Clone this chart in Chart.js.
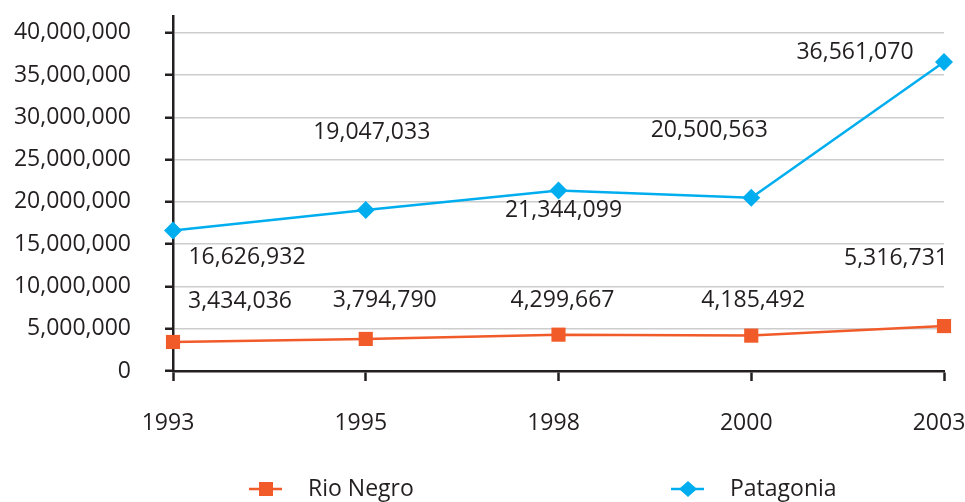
<!DOCTYPE html>
<html>
<head>
<meta charset="utf-8">
<title>Rio Negro / Patagonia</title>
<script src="https://cdn.jsdelivr.net/npm/chart.js@4/dist/chart.umd.min.js"></script>
<style>
  html, body { margin: 0; padding: 0; background: #fff; }
  #wrap { width: 965px; height: 502px; }
</style>
</head>
<body>
<div id="wrap"><canvas id="line-chart" width="965" height="502"></canvas></div>
<script>
const years = ['1993', '1995', '1998', '2000', '2003'];
const rioNegro = [3434036, 3794790, 4299667, 4185492, 5316731];
const patagonia = [16626932, 19047033, 21344099, 20500563, 36561070];
const yTicks = [0, 5000000, 10000000, 15000000, 20000000, 25000000, 30000000, 35000000, 40000000];
const yAxisTop = 42000000;

const INK = '#231f20';
const ORANGE = '#f15a29';
const BLUE = '#00aeef';
const FONT = '"Open Sans", "DejaVu Sans", sans-serif';

const fmt = v => v.toLocaleString('en-US');

// value labels, nudged off each point so they don't sit on the lines
const valueLabels = {
    id: 'valueLabels',
    afterDatasetsDraw(chart, args, opts) {
        const ctx = chart.ctx;
        ctx.save();
        ctx.font = '23px ' + FONT;
        ctx.fillStyle = INK;
        ctx.textAlign = 'center';
        ctx.textBaseline = 'middle';
        chart.data.datasets.forEach((ds, i) => {
            const shift = opts.offsets[i];
            chart.getDatasetMeta(i).data.forEach((pt, j) => {
                ctx.fillText(fmt(ds.data[j]), pt.x + shift[j][0], pt.y + shift[j][1]);
            });
        });
        ctx.restore();
    }
};

// legend: short line with the marker in the middle, then the name
const lineLegend = {
    id: 'lineLegend',
    afterDraw(chart, args, opts) {
        const ctx = chart.ctx;
        ctx.save();
        chart.data.datasets.forEach((ds, i) => {
            const x = opts.x[i], y = opts.y;
            ctx.strokeStyle = ds.borderColor;
            ctx.lineWidth = 2.5;
            ctx.beginPath();
            ctx.moveTo(x, y);
            ctx.lineTo(x + 33, y);
            ctx.stroke();
            ctx.fillStyle = ds.borderColor;
            const cx = x + 17;
            ctx.beginPath();
            if (ds.pointStyle === 'rectRot') {
                ctx.moveTo(cx, y - 8);
                ctx.lineTo(cx + 9, y);
                ctx.lineTo(cx, y + 8);
                ctx.lineTo(cx - 9, y);
                ctx.closePath();
            } else {
                ctx.rect(cx - 7, y - 7, 14, 14);
            }
            ctx.fill();
            ctx.fillStyle = INK;
            ctx.font = '23px ' + FONT;
            ctx.textAlign = 'left';
            ctx.textBaseline = 'middle';
            ctx.fillText(ds.label, x + 59, y);
        });
        ctx.restore();
    }
};

function createChart() {
    const ctx = document.querySelector('#line-chart').getContext('2d');
    return new Chart(ctx, {
        type: 'line',
        data: {
            labels: years,
            datasets: [
                {
                    label: 'Rio Negro',
                    data: rioNegro,
                    borderColor: ORANGE,
                    backgroundColor: ORANGE,
                    borderWidth: 2.5,
                    pointStyle: 'rect',
                    pointRadius: 10,
                    pointBorderWidth: 0,
                    fill: false,
                    tension: 0
                },
                {
                    label: 'Patagonia',
                    data: patagonia,
                    borderColor: BLUE,
                    backgroundColor: BLUE,
                    borderWidth: 2.5,
                    pointStyle: 'rectRot',
                    pointRadius: 9,
                    pointBorderWidth: 0,
                    fill: false,
                    tension: 0
                }
            ]
        },
        options: {
            responsive: false,
            animation: false,
            devicePixelRatio: 1,
            layout: { padding: { top: 16, right: 21, left: 0, bottom: 0 } },
            plugins: {
                legend: { display: false },
                tooltip: { enabled: false },
                valueLabels: {
                    offsets: [
                        [[67, -41], [19, -38], [4, -34], [2, -35], [-48, -68]],
                        [[74, 27], [6, -78], [5, 20], [-42, -67], [-89, -10]]
                    ]
                },
                lineLegend: { x: [249, 671], y: 489 }
            },
            scales: {
                x: {
                    offset: false,
                    border: { color: INK, width: 2.5 },
                    grid: {
                        drawOnChartArea: false,
                        offset: false,
                        tickLength: 10,
                        tickColor: INK,
                        tickWidth: 2.5
                    },
                    ticks: {
                        color: INK,
                        padding: 29,
                        labelOffset: -5,
                        maxRotation: 0,
                        autoSkip: false,
                        font: { family: FONT, size: 23 }
                    },
                    afterFit: scale => {
                        scale.height = 131;
                        scale.paddingLeft = 0;
                        scale.paddingRight = 0;
                    }
                },
                y: {
                    min: 0,
                    max: yAxisTop,
                    border: { color: INK, width: 2.5 },
                    grid: {
                        color: c => (c.tick && c.tick.value === 0) ? 'rgba(0,0,0,0)' : '#cdcdcd',
                        lineWidth: 1.5,
                        tickLength: 8,
                        tickColor: INK,
                        tickWidth: 2.5
                    },
                    ticks: {
                        color: INK,
                        padding: 34,
                        autoSkip: false,
                        font: { family: FONT, size: 23 },
                        callback: v => fmt(v)
                    },
                    // fixed tick list; the axis itself runs a little past the last one
                    afterBuildTicks: scale => {
                        scale.ticks = yTicks.map(v => ({ value: v }));
                    },
                    afterFit: scale => {
                        scale.width = 173;
                        scale.paddingTop = 0;
                        scale.paddingBottom = 0;
                    }
                }
            }
        },
        plugins: [valueLabels, lineLegend]
    });
}

document.fonts.load('23px "Open Sans"').then(createChart, createChart);
</script>
</body>
</html>
